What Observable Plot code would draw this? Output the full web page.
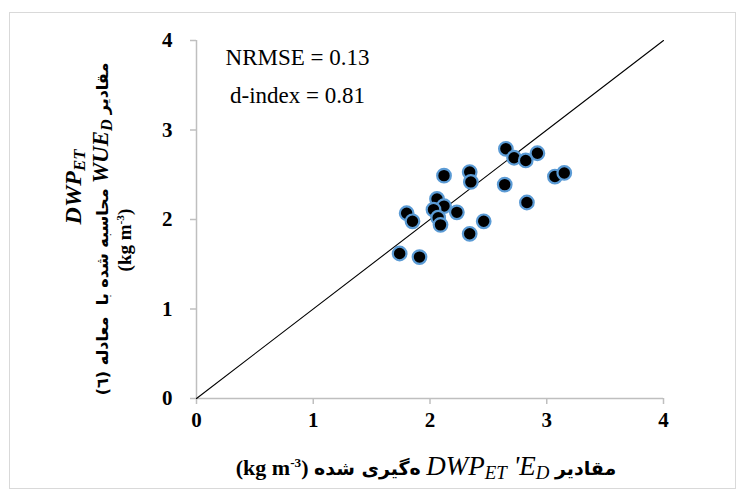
<!DOCTYPE html>
<html>
<head>
<meta charset="utf-8">
<script src="https://cdn.jsdelivr.net/npm/d3@7"></script>
<script src="https://cdn.jsdelivr.net/npm/@observablehq/plot@0.6"></script>
<style>
  html, body { margin: 0; padding: 0; background: #fff; }
  #wrap { position: relative; width: 745px; height: 498px; overflow: hidden; font-family: "Liberation Serif", serif; }
  #frame { position: absolute; left: 9px; top: 12px; width: 727px; height: 477px; border: 1px solid #d9d9d9; box-sizing: border-box; }
  .lbl { position: absolute; white-space: nowrap; font-weight: bold; color: #000; line-height: 1; font-family: "Liberation Serif", serif; }
  .fa { font-family: "DejaVu Sans", sans-serif; font-weight: bold; unicode-bidi: isolate; }
  .it { font-style: italic; font-family: "Liberation Serif", serif; unicode-bidi: isolate; direction: ltr; }
  .sr { font-family: "Liberation Serif", serif; unicode-bidi: isolate; direction: ltr; }
  sub { font-size: 0.7em; vertical-align: -0.25em; line-height: 0; }
  sup { font-size: 0.6em; vertical-align: 0.55em; line-height: 0; }
  .rot { transform: translate(-50%, -50%) rotate(-90deg); transform-origin: center center; }
  .hc { transform: translate(-50%, -50%); }
  #chart svg, #chart svg text { font-family: "Liberation Serif", serif !important; }
</style>
</head>
<body>
<div id="wrap">
  <div id="frame"></div>
  <div id="chart"></div>
  <div class="lbl hc" style="left:426px; top:466px; font-size:22px; direction:ltr;">
    <span class="sr">(kg m<sup>-3</sup>)</span>
    <span class="fa" dir="rtl" style="font-size:19px;">ه‌گیری شده</span>
    <span class="it" style="font-weight:normal; font-size:27px;">DWP<sub>ET</sub></span><span class="it" style="font-weight:normal; font-size:27px;"> 'E<sub>D</sub></span>
    <span class="fa" dir="rtl" style="font-size:19px;">مقادیر</span>
  </div>
  <div class="lbl rot" style="left:73px; top:187px; font-size:24px;">
    <span class="it">DWP<sub>ET</sub></span>
  </div>
  <div class="lbl rot" style="left:100px; top:229px; font-size:20px; direction:ltr;">
    <span class="fa" dir="rtl" style="font-size:16px;">محاسبه شده با&nbsp; معادله (٦)</span>
    <span class="it" style="font-size:23px;">WUE<sub>D</sub></span>
    <span class="fa" dir="rtl" style="font-size:16px;">مقادیر</span>
  </div>
  <div class="lbl rot" style="left:124px; top:240px; font-size:19px;">
    <span class="sr">(kg m<sup>-3</sup>)</span>
  </div>
</div>
<script>
// Measured DWP_ET E_D (x) vs calculated DWP_ET WUE_D (y), kg m-3
const measured = [2.12, 2.34, 2.35, 2.06, 2.12, 2.03, 2.07, 2.09, 2.23, 1.80, 1.85, 2.46, 2.34, 1.74, 1.91, 2.65, 2.72, 2.82, 2.92, 2.64, 3.07, 3.15, 2.83];
const calculated = [2.49, 2.53, 2.42, 2.23, 2.15, 2.11, 2.02, 1.94, 2.08, 2.07, 1.98, 1.98, 1.84, 1.62, 1.58, 2.79, 2.69, 2.66, 2.74, 2.39, 2.48, 2.52, 2.19];
const axisTicks = [0, 1, 2, 3, 4];
const identityLine = [0, 4];
const nrmseLabel = ["NRMSE = 0.13"];
const dindexLabel = ["d-index = 0.81"];

const points = measured.map((x, i) => ({x, y: calculated[i]}));
const lineData = identityLine.map(v => ({x: v, y: v}));
const serif = "'Liberation Serif', serif";

const plot = Plot.plot({
  width: 745,
  height: 498,
  marginLeft: 196,
  marginRight: 82,
  marginTop: 40,
  marginBottom: 100,
  style: {background: "transparent", fontFamily: serif, overflow: "visible"},
  x: {domain: [0, 4]},
  y: {domain: [0, 4]},
  marks: [
    Plot.ruleY([0], {stroke: "#bfbfbf", strokeWidth: 1.5}),
    Plot.ruleX([0], {stroke: "#bfbfbf", strokeWidth: 1.5}),
    Plot.axisX({ticks: axisTicks, tickSize: 6, tickPadding: 8, stroke: "#bfbfbf", strokeWidth: 1.5, fontSize: 21, fontWeight: "bold", fill: "#000", label: null, tickFormat: d => String(d)}),
    Plot.axisY({ticks: axisTicks, tickSize: 6, tickPadding: 18, stroke: "#bfbfbf", strokeWidth: 1.5, fontSize: 21, fontWeight: "bold", fill: "#000", label: null, tickFormat: d => String(d)}),
    Plot.line(lineData, {x: "x", y: "y", stroke: "#000", strokeWidth: 1.1}),
    Plot.dot(points, {x: "x", y: "y", r: 6.8, fill: "#000", stroke: "#5b9bd5", strokeWidth: 2.2}),
    Plot.text(nrmseLabel, {text: d => d, frameAnchor: "top-left", textAnchor: "middle", lineAnchor: "middle", dx: 101, dy: 17, fontSize: 23, fill: "#000"}),
    Plot.text(dindexLabel, {text: d => d, frameAnchor: "top-left", textAnchor: "middle", lineAnchor: "middle", dx: 101, dy: 55, fontSize: 23, fill: "#000"})
  ]
});
document.getElementById("chart").appendChild(plot);
</script>
</body>
</html>
